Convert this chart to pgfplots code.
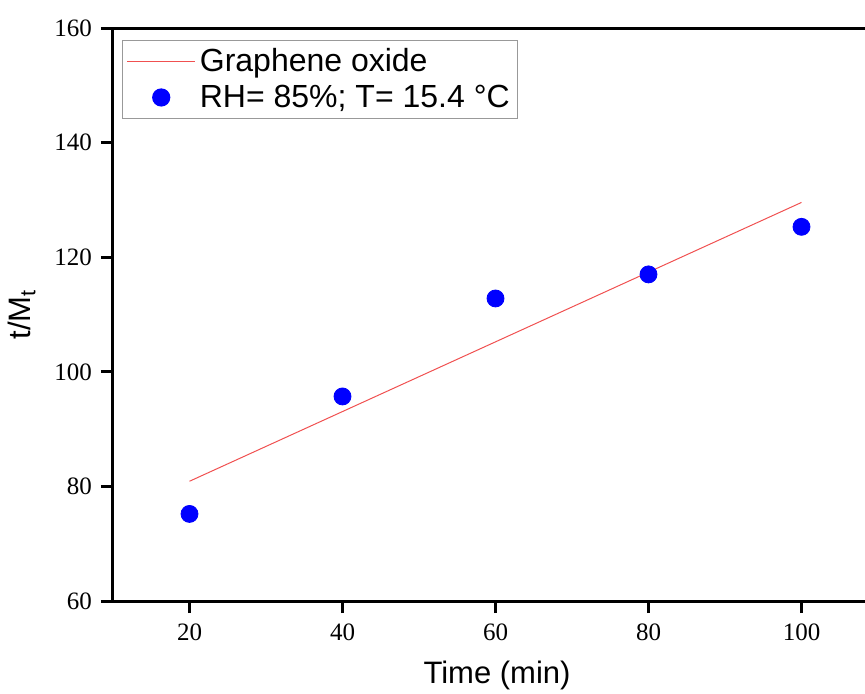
\documentclass[border=0pt]{standalone}
\usepackage{fontspec}
\setmainfont{Liberation Serif}
\setsansfont{Liberation Sans}
\usepackage{pgfplots}
\pgfplotsset{compat=1.18}
\definecolor{fitred}{RGB}{240,80,80}
\begin{document}
\begin{tikzpicture}
\clip (-56.5pt,-46pt) rectangle (376pt,300.5pt);
\begin{axis}[
  scale only axis,
  width=382.5pt, height=286.5pt,
  xmin=10, xmax=110, ymin=60, ymax=160,
  clip=false,
  axis line style={draw=black, line width=1.5pt},
  xtick pos=left, ytick pos=left,
  xtick={20,40,60,80,100}, ytick={60,80,...,160},
  tick align=outside, major tick length=6pt,
  tick style={draw=black, line width=1.5pt},
  /pgf/number format/assume math mode=true,
  tick label style={font=\fontsize{12.5}{14}\selectfont},
  xticklabel style={yshift=-2pt},
  yticklabel style={xshift=-1pt},
  every axis x label/.style={at={(axis description cs:0,0)}, xshift=192pt, yshift=-37pt, anchor=center},
  every axis y label/.style={at={(axis description cs:0,0.5)}, xshift=-45.5pt, rotate=90, anchor=center},
  label style={font=\sffamily\fontsize{15.5}{18}\selectfont},
  xlabel={Time (min)},
  ylabel={t/M$_{\mathsf{t}}$},
  legend style={at={(axis description cs:0,1)}, xshift=4.5pt, yshift=-6pt, anchor=north west,
    draw=gray!80, line width=0.6pt, font=\sffamily\fontsize{16}{18}\selectfont,
    row sep=1pt, inner sep=2pt, cells={anchor=west}},
]
\addplot[draw=fitred, line width=0.5pt, no marks,
  legend image code/.code={\draw[draw=fitred, line width=0.5pt] (0cm,0cm) -- (1.2cm,0cm);}]
  coordinates {(20,80.9) (100,129.56)};
\addlegendentry{Graphene oxide}
\addplot[only marks, mark=*, mark size=4.25pt, draw=blue, fill=blue,
  legend image code/.code={\fill[blue] (0.6cm,0cm) circle[radius=4.25pt];}]
  coordinates {(20,75.2) (40,95.7) (60,112.8) (80,117.0) (100,125.3)};
\addlegendentry{RH= 85\%; T= 15.4 °C}
% tick marks (outside)
\draw[line width=1.5pt] (axis cs:20,60) -- ++(0pt,-6pt);
\draw[line width=1.5pt] (axis cs:40,60) -- ++(0pt,-6pt);
\draw[line width=1.5pt] (axis cs:60,60) -- ++(0pt,-6pt);
\draw[line width=1.5pt] (axis cs:80,60) -- ++(0pt,-6pt);
\draw[line width=1.5pt] (axis cs:100,60) -- ++(0pt,-6pt);
\draw[line width=1.5pt] (axis cs:10,60) -- ++(-6pt,0pt);
\draw[line width=1.5pt] (axis cs:10,80) -- ++(-6pt,0pt);
\draw[line width=1.5pt] (axis cs:10,100) -- ++(-6pt,0pt);
\draw[line width=1.5pt] (axis cs:10,120) -- ++(-6pt,0pt);
\draw[line width=1.5pt] (axis cs:10,140) -- ++(-6pt,0pt);
\draw[line width=1.5pt] (axis cs:10,160) -- ++(-6pt,0pt);
\end{axis}
\end{tikzpicture}
\end{document}
